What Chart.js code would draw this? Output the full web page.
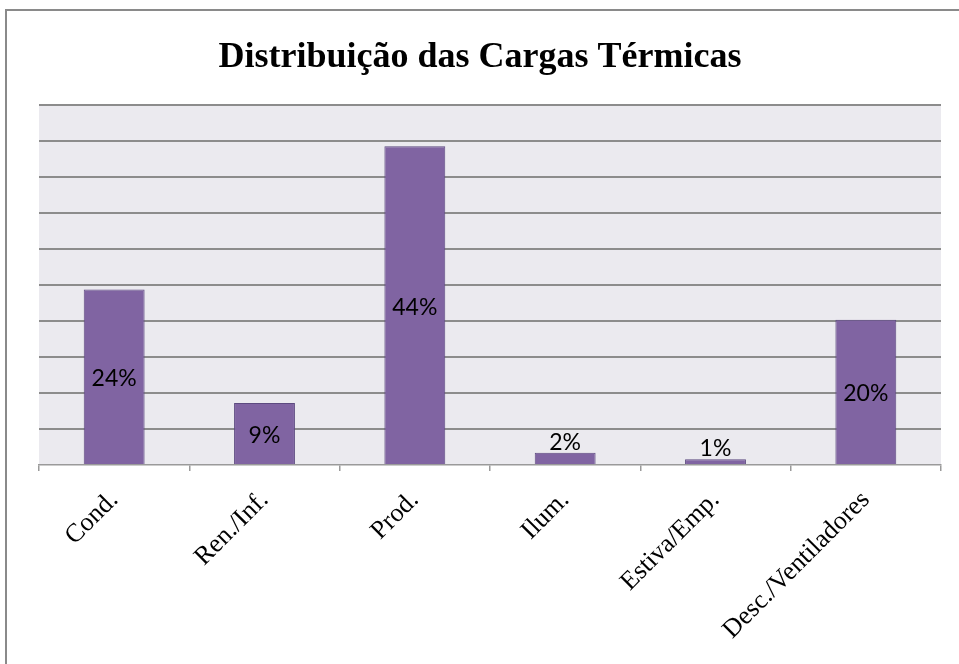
<!DOCTYPE html>
<html lang="pt">
<head>
<meta charset="UTF-8">
<title>Distribuição das Cargas Térmicas</title>
<script src="https://cdn.jsdelivr.net/npm/chart.js"></script>
<style>
    html, body { margin: 0; padding: 0; background: #fff; overflow: hidden; }
    #frame {
        position: absolute; left: 5px; top: 9px; width: 980px; height: 680px;
        border: 2px solid #8a8a8a; box-sizing: border-box;
    }
    #wrap { position: absolute; left: 0; top: 0; width: 959px; height: 664px; }
</style>
</head>
<body>
<div id="frame"></div>
<div id="wrap"><canvas id="cargas" width="959" height="664"></canvas></div>

<script>
    // dados
    var categorias = ['Cond.', 'Ren./Inf.', 'Prod.', 'Ilum.', 'Estiva/Emp.', 'Desc./Ventiladores'];
    var valores = [24.4, 8.6, 44.3, 1.7, 0.8, 20.2];
    var rotulos = ['24%', '9%', '44%', '2%', '1%', '20%'];
    var yTicks = [0, 5, 10, 15, 20, 25, 30, 35, 40, 45, 50];

    // fundo da área de plotagem
    var fundoPlot = {
        id: 'fundoPlot',
        beforeDraw: function (chart) {
            var a = chart.chartArea, c = chart.ctx;
            c.save();
            c.fillStyle = '#ebeaef';
            c.fillRect(a.left, a.top, a.right - a.left, a.bottom - a.top);
            c.restore();
        }
    };

    // rótulos de dados: no centro da barra, ou acima se a barra for baixa
    var rotulosDados = {
        id: 'rotulosDados',
        afterDatasetsDraw: function (chart) {
            var c = chart.ctx;
            var meta = chart.getDatasetMeta(0);
            c.save();
            c.font = '23px Lato, "Open Sans", sans-serif';
            c.fillStyle = '#000';
            c.textAlign = 'center';
            meta.data.forEach(function (bar, i) {
                var h = bar.base - bar.y;
                if (h > 30) {
                    c.textBaseline = 'middle';
                    c.fillText(rotulos[i], bar.x, (bar.y + bar.base) / 2 + 2);
                } else {
                    c.textBaseline = 'bottom';
                    c.fillText(rotulos[i], bar.x, bar.y + 1);
                }
            });
            c.restore();
        }
    };

    var ctx = document.getElementById('cargas').getContext('2d');
    var chart = new Chart(ctx, {
        type: 'bar',
        data: {
            labels: categorias,
            datasets: [{
                data: valores,
                backgroundColor: '#8064a2',
                borderColor: '#5d4a80',
                borderWidth: 1,
                borderSkipped: 'bottom',
                categoryPercentage: 1,
                barPercentage: 0.405
            }]
        },
        options: {
            responsive: false,
            animation: false,
            // título centrado na tela: padding 19 + eixo y de 20 = área começa em 39
            layout: { padding: { left: 19, right: 18, top: 0, bottom: 0 } },
            plugins: {
                legend: { display: false },
                tooltip: { enabled: false },
                title: {
                    display: true,
                    text: 'Distribuição das Cargas Térmicas',
                    color: '#000',
                    font: { family: '"Liberation Serif", "Times New Roman", serif', size: 36, weight: 'bold' },
                    padding: { top: 36, bottom: 26 }
                }
            },
            scales: {
                x: {
                    grid: {
                        display: true,
                        drawOnChartArea: false,
                        drawTicks: true,
                        tickLength: 6,
                        color: '#9a9a9a',
                        lineWidth: 1.5,
                        offset: true
                    },
                    border: { display: true, color: '#9a9a9a', width: 1.5 },
                    ticks: {
                        color: '#000',
                        minRotation: 45,
                        maxRotation: 45,
                        padding: 14,
                        font: { family: '"Liberation Serif", "Times New Roman", serif', size: 26 }
                    },
                    afterFit: function (s) { s.height = 199; }
                },
                y: {
                    min: 0,
                    max: 50,
                    afterBuildTicks: function (s) {
                        s.ticks = yTicks.map(function (v) { return { value: v }; });
                    },
                    ticks: { display: false },
                    border: { display: false },
                    grid: {
                        color: function (c) { return c.tick.value === 0 ? 'rgba(0,0,0,0)' : '#8c8c8c'; },
                        lineWidth: 2,
                        drawTicks: false
                    },
                    afterFit: function (s) { s.width = 20; }
                }
            }
        },
        plugins: [fundoPlot, rotulosDados]
    });
</script>
</body>
</html>
